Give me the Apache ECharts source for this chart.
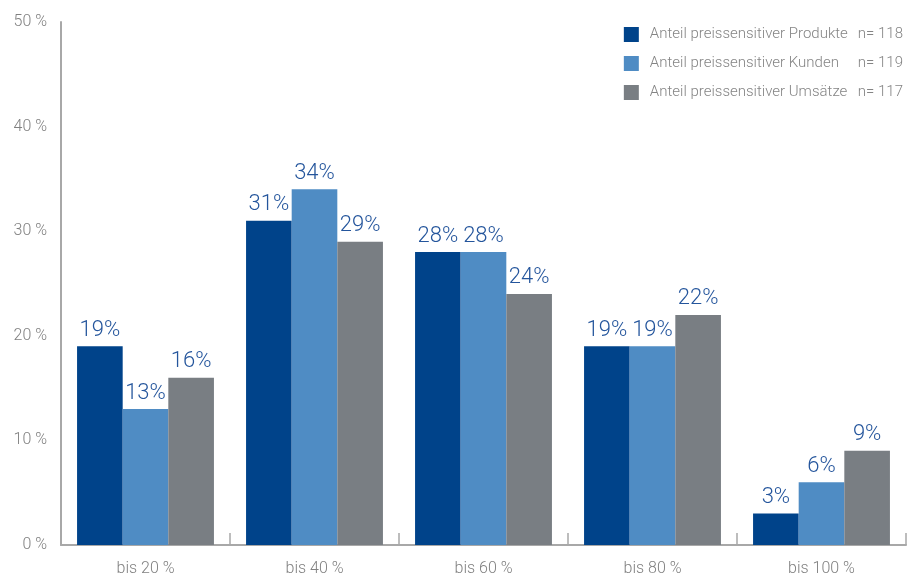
<!DOCTYPE html>
<html><head><meta charset="utf-8">
<script src="https://cdn.jsdelivr.net/npm/echarts@6/dist/echarts.min.js"></script>
<style>html,body{margin:0;padding:0;background:#fff}#c{width:911px;height:577px}</style>
</head><body><div id="c"></div>
<script>
var categories = ['bis 20 %', 'bis 40 %', 'bis 60 %', 'bis 80 %', 'bis 100 %'];
var seriesNames = ['Anteil preissensitiver Produkte', 'Anteil preissensitiver Kunden', 'Anteil preissensitiver Umsätze'];
var seriesN = ['n= 118', 'n= 119', 'n= 117'];
var produkte = [19, 31, 28, 19, 3];
var kunden = [13, 34, 28, 19, 6];
var umsaetze = [16, 29, 24, 22, 9];
var yTicks = [0, 10, 20, 30, 40, 50];
var colors = ['#00438a', '#4f8cc4', '#797e83'];
var FONT = 'Roboto, sans-serif';

var chart = echarts.init(document.getElementById('c'));
var dataSets = [produkte, kunden, umsaetze];
var series = dataSets.map(function (d, i) {
  return {
    name: seriesNames[i], type: 'bar', data: d,
    barGap: 0, barCategoryGap: '19%',
    itemStyle: { color: colors[i] },
    label: { show: true, position: 'top', distance: 5, formatter: '{c}%',
      color: '#24559c', fontSize: 22, fontWeight: 300, fontFamily: FONT }
  };
});
chart.setOption({
  animation: false,
  color: colors,
  grid: { left: 61, right: 5, top: 22, bottom: 32 },
  legend: {
    orient: 'vertical', right: 3, top: 22, itemWidth: 15, itemHeight: 15, itemGap: 14,
    icon: 'rect',
    data: seriesNames,
    formatter: function (name) {
      var i = seriesNames.indexOf(name);
      return '{a|' + name + '}{b|' + seriesN[i] + '}';
    },
    textStyle: {
      color: '#848484', fontFamily: FONT, fontSize: 15, fontWeight: 300,
      rich: {
        a: { width: 208, padding: [0, 0, 0, 6], fontFamily: FONT, fontSize: 15, fontWeight: 300, color: '#848484' },
        b: { fontFamily: FONT, fontSize: 15, fontWeight: 300, color: '#848484' }
      }
    }
  },
  xAxis: {
    type: 'category', data: categories,
    axisLine: { lineStyle: { color: '#a8a8a8', width: 2 } },
    axisTick: { show: true, inside: true, length: 12, lineStyle: { color: '#a8a8a8', width: 1.5 } },
    axisLabel: { color: '#808080', fontSize: 16, fontWeight: 300, fontFamily: FONT, margin: 16 }
  },
  yAxis: {
    type: 'value', min: yTicks[0], max: yTicks[yTicks.length - 1], interval: 10,
    axisLine: { show: true, lineStyle: { color: '#a8a8a8', width: 2 } },
    axisTick: { show: false },
    splitLine: { show: false },
    axisLabel: { color: '#808080', fontSize: 16, fontWeight: 300, fontFamily: FONT, margin: 14, formatter: '{value} %' }
  },
  series: series
});
</script></body></html>
